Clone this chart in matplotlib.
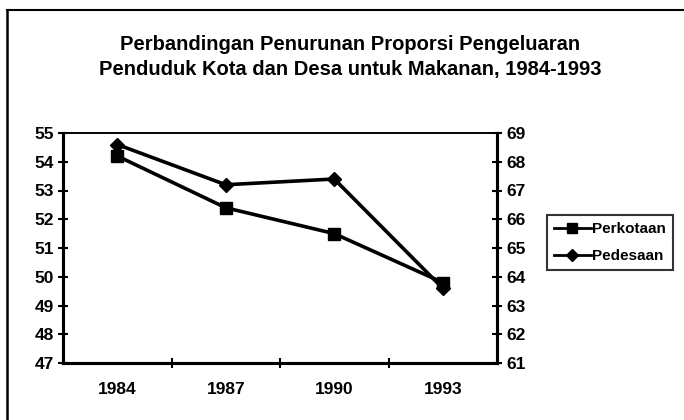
import matplotlib
matplotlib.use("Agg")
import matplotlib.pyplot as plt
from matplotlib.lines import Line2D

years = ["1984", "1987", "1990", "1993"]
perkotaan = [54.2, 52.4, 51.5, 49.8]   # left axis
pedesaan = [68.6, 67.2, 67.4, 63.6]    # right axis
left_ticks = [47, 48, 49, 50, 51, 52, 53, 54, 55]
right_ticks = [61, 62, 63, 64, 65, 66, 67, 68, 69]
title = "Perbandingan Penurunan Proporsi Pengeluaran\nPenduduk Kota dan Desa untuk Makanan, 1984-1993"

plt.rcParams['font.family'] = ['Liberation Sans', 'DejaVu Sans']
plt.rcParams['font.weight'] = 'bold'

W, H = 684, 420
fig = plt.figure(figsize=(W / 100, H / 100), dpi=100)
fig.patch.set_facecolor('white')

# Plot area position (pixels -> fractions)
L, R, T, B = 63, 497, 133, 363
ax = fig.add_axes([L / W, 1 - B / H, (R - L) / W, (B - T) / H])
ax2 = ax.twinx()

x = list(range(len(years)))
ax.plot(x, perkotaan, color='black', lw=2.6, marker='s', ms=8, mfc='black', mec='black', zorder=3)
ax2.plot(x, pedesaan, color='black', lw=2.6, marker='D', ms=7, mfc='black', mec='black', zorder=3)

ax.set_xlim(-0.5, len(years) - 0.5)
ax.set_ylim(left_ticks[0], left_ticks[-1])
ax2.set_ylim(right_ticks[0], right_ticks[-1])
ax.set_yticks(left_ticks)
ax2.set_yticks(right_ticks)
ax.set_yticklabels([str(v) for v in left_ticks])
ax2.set_yticklabels([str(v) for v in right_ticks])

# category labels centered, tick marks at boundaries
ax.set_xticks(x)
ax.set_xticklabels(years)
ax.set_xticks([i + 0.5 for i in x[:-1]], minor=True)
ax.tick_params(axis='x', which='major', length=0, pad=14, labelsize=12.5)
ax.tick_params(axis='x', which='minor', direction='inout', length=7, width=1.5)
ax.tick_params(axis='y', direction='inout', length=7, width=1.5, labelsize=12.5, pad=3)
ax2.tick_params(axis='y', direction='inout', length=7, width=1.5, labelsize=12.5, pad=3)

for a in (ax, ax2):
    for s in ('left', 'right', 'bottom'):
        a.spines[s].set_linewidth(2.2)
    a.spines['top'].set_linewidth(1.2)
    for lab in a.get_yticklabels() + a.get_xticklabels():
        lab.set_fontweight('bold')

fig.text(350 / W, 1 - 57 / H, title, ha='center', va='center', fontsize=14.5,
         fontweight='bold', linespacing=1.45)

# Legend
handles = [
    Line2D([], [], color='black', lw=2, marker='s', ms=7),
    Line2D([], [], color='black', lw=2, marker='D', ms=6),
]
leg = fig.legend(handles, ["Perkotaan", "Pedesaan"], loc='upper left',
                 bbox_to_anchor=(547 / W, 1 - 215 / H), frameon=True, fancybox=False,
                 edgecolor='black', fontsize=11, handlelength=2.4, handletextpad=0.1,
                 borderpad=0.45, labelspacing=0.85, borderaxespad=0)
leg.get_frame().set_linewidth(1.5)
for t in leg.get_texts():
    t.set_fontweight('bold')

# Outer frame (top and left edges of the scanned chart box)
fig.add_artist(Line2D([7 / W, 1.0], [1 - 10 / H, 1 - 10 / H], transform=fig.transFigure,
                      color='black', lw=1.5))
fig.add_artist(Line2D([7 / W, 7 / W], [0, 1 - 10 / H], transform=fig.transFigure,
                      color='black', lw=1.8))

fig.savefig("out.png", dpi=100, facecolor='white')
